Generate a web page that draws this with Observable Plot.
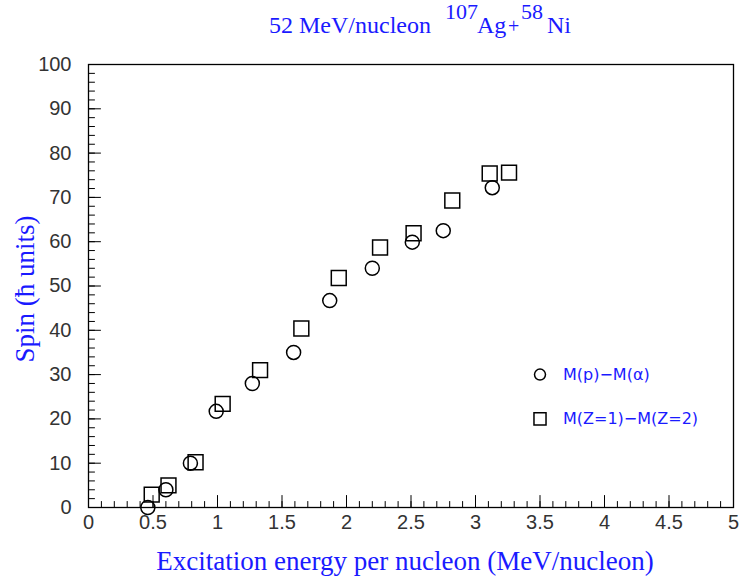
<!DOCTYPE html>
<html><head><meta charset="utf-8">
<script src="https://cdn.jsdelivr.net/npm/d3@7"></script>
<script src="https://cdn.jsdelivr.net/npm/@observablehq/plot@0.6"></script>
<style>body{margin:0;background:#fff}</style>
</head><body><div id="chart"></div>
<script>
// Series: M(p)-M(alpha) (circles)
const circleX = [0.46, 0.60, 0.79, 0.99, 1.27, 1.59, 1.87, 2.20, 2.51, 2.75, 3.13];
const circleY = [0.0, 4.0, 10.0, 21.7, 28.0, 35.0, 46.7, 54.0, 59.9, 62.5, 72.2];
// Series: M(Z=1)-M(Z=2) (squares)
const squareX = [0.49, 0.62, 0.83, 1.04, 1.33, 1.65, 1.94, 2.26, 2.52, 2.82, 3.11, 3.26];
const squareY = [2.9, 5.0, 10.2, 23.4, 31.0, 40.4, 51.8, 58.7, 61.9, 69.3, 75.4, 75.6];
// Ticks
const xTicks = [0, 0.5, 1, 1.5, 2, 2.5, 3, 3.5, 4, 4.5, 5];
const xMinorTicks = d3.range(0, 51).map(i => i / 10);
const yTicks = [0, 10, 20, 30, 40, 50, 60, 70, 80, 90, 100];
const yMinorTicks = d3.range(0, 51).map(i => i * 2);
// Legend
const seriesNames = ["M(p)\u2212M(\u03b1)", "M(Z=1)\u2212M(Z=2)"];
const seriesSymbols = ["circle", "square"];
const legendX = [3.5, 3.5];
const legendY = [30, 20];

const circles = circleX.map((x, i) => ({x, y: circleY[i]}));
const squares = squareX.map((x, i) => ({x, y: squareY[i]}));
const legend = seriesNames.map((name, i) => ({name, symbol: seriesSymbols[i], x: legendX[i], y: legendY[i]}));

const tickShape = {draw(context, l) { context.moveTo(0, 0); context.lineTo(0, -l); }};
const tickFont = "Liberation Sans, Arial, sans-serif";

const svg = Plot.plot({
  width: 741, height: 583,
  marginLeft: 88, marginRight: 8, marginTop: 64, marginBottom: 76,
  style: {background: "white", overflow: "visible"},
  x: {domain: [0, 5], axis: null},
  y: {domain: [0, 100], axis: null},
  marks: [
    Plot.vector(yMinorTicks, {y: d => d, frameAnchor: "left", rotate: 90, length: 6, anchor: "start", shape: tickShape, stroke: "black", strokeWidth: 1}),
    Plot.vector(yTicks, {y: d => d, frameAnchor: "left", rotate: 90, length: 12, anchor: "start", shape: tickShape, stroke: "black", strokeWidth: 1}),
    Plot.vector(xMinorTicks, {x: d => d, frameAnchor: "bottom", rotate: 0, length: 6, anchor: "start", shape: tickShape, stroke: "black", strokeWidth: 1}),
    Plot.vector(xTicks, {x: d => d, frameAnchor: "bottom", rotate: 0, length: 12, anchor: "start", shape: tickShape, stroke: "black", strokeWidth: 1}),
    Plot.axisY(yTicks, {tickSize: 0, tickPadding: 17, fontSize: 20, fontFamily: tickFont, fill: "#333", label: null}),
    Plot.axisX(xTicks, {tickSize: 0, tickPadding: 7, fontSize: 20, fontFamily: tickFont, fill: "#333", label: null, tickFormat: d => String(d)}),
    Plot.frame({stroke: "black", strokeWidth: 1.3}),
    Plot.dot(circles, {x: "x", y: "y", r: 7, symbol: "circle", stroke: "black", strokeWidth: 1.5, fill: "none"}),
    Plot.dot(squares, {x: "x", y: "y", r: 8.4, symbol: "square", stroke: "black", strokeWidth: 1.5, fill: "none"}),
    Plot.dot(legend.filter(d => d.symbol === "circle"), {x: "x", y: "y", r: 5.5, symbol: "circle", stroke: "black", strokeWidth: 1.5, fill: "none"}),
    Plot.dot(legend.filter(d => d.symbol === "square"), {x: "x", y: "y", r: 6.8, symbol: "square", stroke: "black", strokeWidth: 1.5, fill: "none"}),
    Plot.text(legend, {x: "x", y: "y", text: "name", dx: 23, textAnchor: "start", fill: "#1a1aff", fontSize: 16, fontFamily: "DejaVu Sans, sans-serif"})
  ]
});

const s = d3.select(svg);
const serif = "Liberation Serif, Times New Roman, serif";
const title = s.append("text").attr("y", 33).attr("x", 269)
  .attr("fill", "#1a1aff").style("text-anchor", "start")
  .style("font-family", serif).style("font-size", "24px");
title.append("tspan").text("52 MeV/nucleon");
title.append("tspan").attr("x", 445).attr("y", 19).style("font-size", "22px").text("107");
title.append("tspan").attr("x", 477).attr("y", 33).text("Ag");
title.append("tspan").attr("x", 508).attr("y", 33).style("font-size", "20px").text("+");
title.append("tspan").attr("x", 521).attr("y", 19).style("font-size", "22px").text("58");
title.append("tspan").attr("x", 547).attr("y", 33).text("Ni");

s.append("text").attr("transform", "translate(34,289) rotate(-90)")
  .style("text-anchor", "middle").attr("fill", "#1a1aff")
  .style("font-family", serif).style("font-size", "27px").text("Spin (\u0127 units)");

s.append("text").attr("x", 405).attr("y", 570)
  .style("text-anchor", "middle").attr("fill", "#1a1aff")
  .style("font-family", serif).style("font-size", "27px").text("Excitation energy per nucleon (MeV/nucleon)");

document.getElementById("chart").appendChild(svg);
</script>
</body></html>
